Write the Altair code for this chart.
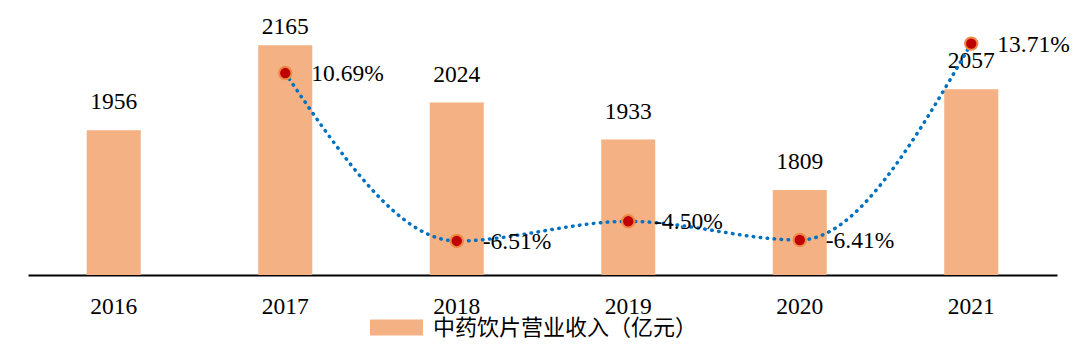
import altair as alt
import pandas as pd

years = ["2016", "2017", "2018", "2019", "2020", "2021"]
revenue = [1956, 2165, 2024, 1933, 1809, 2057]
growth = [None, 10.69, -6.51, -4.50, -6.41, 13.71]
growth_labels = ["", "10.69%", "-6.51%", "-4.50%", "-6.41%", "13.71%"]
series_name = "中药饮片营业收入（亿元）"

df = pd.DataFrame({
    "year": years,
    "revenue": revenue,
    "growth": growth,
    "glabel": growth_labels,
    "series": [series_name] * len(years),
})

NUM_FONT = "Liberation Serif"
FS = 23.5
x = alt.X("year:N", sort=years, title=None,
          scale=alt.Scale(paddingInner=0.685, paddingOuter=0.3425),
          axis=alt.Axis(labelFont=NUM_FONT, labelFontSize=FS, labelColor="black",
                        labelAngle=0, ticks=False, labelPadding=19,
                        domainColor="black", domainWidth=2, grid=False))

ybar = alt.Scale(domain=[1600, 2200], zero=False, nice=False)
yline = alt.Scale(domain=[-10, 15], nice=False, zero=False)

base = alt.Chart(df)

bars = base.mark_bar(clip=True).encode(
    x=x,
    y=alt.Y("revenue:Q", scale=ybar, axis=None),
    color=alt.Color("series:N", scale=alt.Scale(range=["#F4B183"]),
                    legend=alt.Legend(title=None, orient="none", legendX=342, legendY=270,
                                      symbolType="M-1,-0.3H1V0.3H-1Z", symbolSize=2809,
                                      symbolStrokeWidth=0, symbolOpacity=1,
                                      labelFont="Noto Sans CJK SC", labelFontSize=22,
                                      labelLimit=0,
                                      labelColor="black", labelOffset=10, padding=0)),
)

bar_labels = base.transform_calculate(
    lpos="min(datum.revenue, 2140)"
).mark_text(font=NUM_FONT, fontSize=FS, color="black", baseline="middle", dy=-28).encode(
    x=x,
    y=alt.Y("lpos:Q", scale=ybar, axis=None),
    text=alt.Text("revenue:Q", format="d"),
)

bar_layer = alt.layer(bars, bar_labels)

gdf = base.transform_filter("datum.growth != null")

line = gdf.mark_line(interpolate="monotone", color="#0070C0", strokeWidth=3.5,
                     strokeDash=[0.5, 6.5], strokeCap="round").encode(
    x=x,
    y=alt.Y("growth:Q", scale=yline, axis=None),
)

points = gdf.mark_circle(color="#C00000", stroke="#EE8A45", strokeWidth=2,
                         size=154, opacity=1).encode(
    x=x,
    y=alt.Y("growth:Q", scale=yline, axis=None),
)

glabels = gdf.mark_text(font=NUM_FONT, fontSize=FS, color="black", align="left",
                        baseline="middle", dx=26, dy=1).encode(
    x=x,
    y=alt.Y("growth:Q", scale=yline, axis=None),
    text="glabel:N",
)

line_layer = alt.layer(line, points, glabels)

chart = alt.layer(bar_layer, line_layer).resolve_scale(y="independent").properties(
    width=1029, height=244,
    autosize=alt.AutoSizeParams(type="none"),
    padding={"left": 28, "top": 31, "right": 23, "bottom": 76},
    background="white",
).configure_view(stroke=None)

chart.save("out.html", embed_options={"renderer": "svg", "actions": False})
